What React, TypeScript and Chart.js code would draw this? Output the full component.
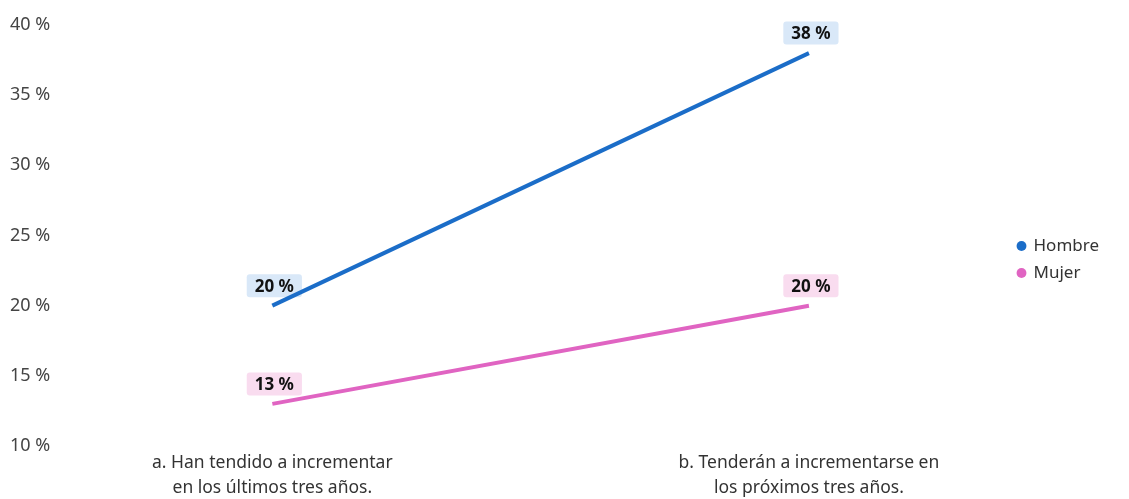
import React, { useEffect, useRef } from "react";
import { Chart, registerables } from "chart.js";

Chart.register(...registerables);

const categories: string[][] = [
  ["a. Han tendido a incrementar", "en los últimos tres años."],
  ["b. Tenderán a incrementarse en", "los próximos tres años."],
];
const hombre = [20, 38];
const mujer = [13, 20];
const seriesNames = ["Hombre", "Mujer"];
const yTicks = [10, 15, 20, 25, 30, 35, 40];

const FONT = "'Noto Sans', 'Open Sans', sans-serif";

const labelPlugin = {
  id: "valueLabels",
  afterLayout(chart: any) {
    const lg = chart.legend;
    if (lg) {
      lg.top -= 6;
      lg.bottom -= 6;
    }
  },
  beforeDatasetsDraw(chart: any) {
    const ctx = chart.ctx;
    const bgs = ["#d9e8f8", "#f9dcef"];
    chart.data.datasets.forEach((ds: any, di: number) => {
      const meta = chart.getDatasetMeta(di);
      meta.data.forEach((pt: any, i: number) => {
        const v = ds.data[i].y;
        const text = `${v} %`;
        ctx.save();
        ctx.font = `bold 17px ${FONT}`;
        const tw = ctx.measureText(text).width;
        const w = tw + 16;
        const h = 23;
        const cx = pt.x + 2;
        const cy = pt.y - 20;
        ctx.fillStyle = bgs[di];
        ctx.beginPath();
        (ctx as any).roundRect(cx - w / 2, cy - h / 2, w, h, 3);
        ctx.fill();
        ctx.fillStyle = "#111";
        ctx.textAlign = "center";
        ctx.textBaseline = "middle";
        ctx.fillText(text, cx, cy + 1);
        ctx.restore();
      });
    });
  },
};

export default function App() {
  const ref = useRef<HTMLCanvasElement>(null);
  useEffect(() => {
    document.body.style.margin = "0";
    const chart = new Chart(ref.current!, {
      type: "line",
      data: {
        datasets: [
          {
            label: seriesNames[0],
            data: hombre.map((y, i) => ({ x: i, y })),
            borderColor: "#1b6dc8",
            backgroundColor: "#1b6dc8",
            borderWidth: 4,
            pointRadius: 0,
            pointHoverRadius: 0,
          },
          {
            label: seriesNames[1],
            data: mujer.map((y, i) => ({ x: i, y })),
            borderColor: "#e064c2",
            backgroundColor: "#e064c2",
            borderWidth: 4,
            pointRadius: 0,
            pointHoverRadius: 0,
          },
        ],
      },
      options: {
        animation: false,
        responsive: true,
        maintainAspectRatio: false,
        layout: { padding: { top: 25, left: 2, right: 20, bottom: -7 } },
        plugins: {
          tooltip: { enabled: false },
          legend: {
            position: "right",
            labels: {
              usePointStyle: true,
              pointStyle: "circle",
              boxWidth: 7,
              boxHeight: 7,
              padding: 10,
              color: "#333",
              font: { size: 17, family: FONT },
              generateLabels: (c: any) =>
                Chart.defaults.plugins.legend.labels
                  .generateLabels(c)
                  .map((l: any) => ({ ...l, lineWidth: 0, strokeStyle: l.fillStyle })),
            },
          },
        },
        scales: {
          x: {
            type: "linear",
            min: -0.399,
            max: 1.371,
            grid: { display: false, drawTicks: false },
            border: { display: false },
            afterBuildTicks: (axis: any) => {
              axis.ticks = [{ value: 0 }, { value: 1 }];
            },
            ticks: {
              autoSkip: false,
              maxRotation: 0,
              padding: 5,
              color: "#333",
              font: { size: 17.5, family: FONT, lineHeight: "25px" },
              callback: (v: any) => categories[v as number] ?? "",
            },
          },
          y: {
            min: 10,
            max: 40,
            grid: { display: false, drawTicks: false },
            border: { display: false },
            afterBuildTicks: (axis: any) => {
              axis.ticks = yTicks.map((value) => ({ value }));
            },
            ticks: {
              padding: 8,
              color: "#444",
              font: { size: 18, family: FONT },
              callback: (v: any) => `${v} %`,
            },
          },
        },
      },
      plugins: [labelPlugin],
    });
    return () => chart.destroy();
  }, []);
  return (
    <div style={{ width: 1129, height: 499, position: "relative" }}>
      <canvas ref={ref} />
    </div>
  );
}
